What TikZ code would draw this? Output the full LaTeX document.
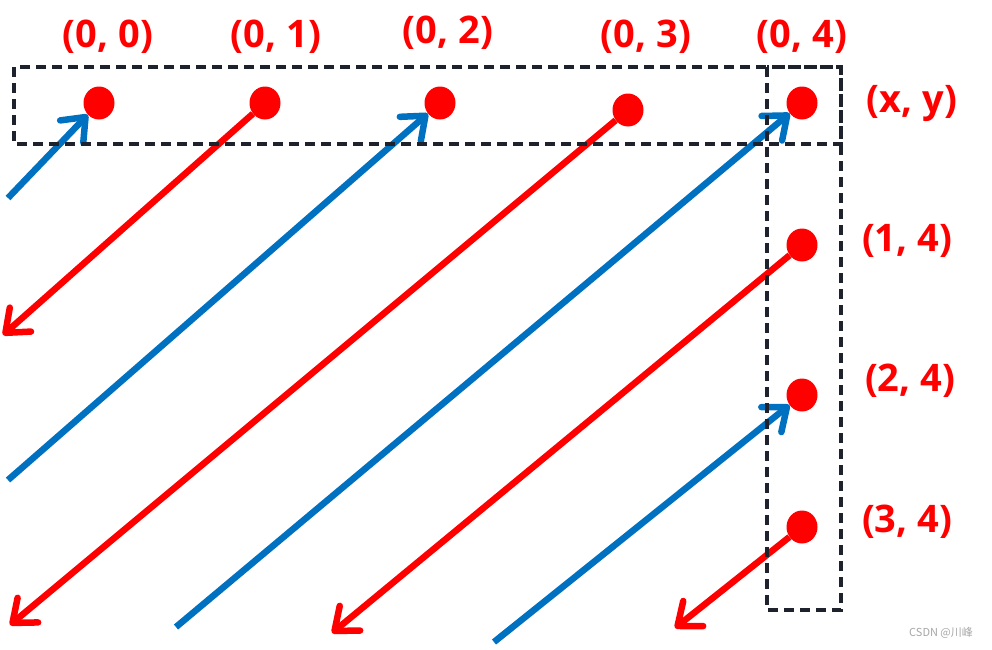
\documentclass[tikz,border=0pt]{standalone}
\usepackage{fontspec}
\setmainfont{Open Sans}
\newfontfamily\cjkfont{Noto Sans CJK SC}
\usetikzlibrary{shapes.geometric,arrows.meta}
\definecolor{myred}{RGB}{255,0,0}
\definecolor{myblue}{RGB}{0,112,192}
\definecolor{mydark}{RGB}{30,34,44}
\tikzset{
  dot/.style={ellipse,fill=myred,inner sep=0pt,minimum width=31pt,minimum height=33pt},
  lbl/.style={text=myred,font=\fontsize{38}{40}\selectfont\bfseries,inner sep=0pt},
  bluearr/.style={draw=myblue,line width=6.5pt,-{Straight Barb[length=20pt,width=32pt,round]}},
  redarr/.style={draw=myred,line width=6.5pt,-{Straight Barb[length=20pt,width=32pt,round]}},
  dashbox/.style={draw=mydark,line width=4pt,dash pattern=on 10pt off 6pt}
}
\begin{document}
\begin{tikzpicture}[x=1pt,y=-1pt]
\useasboundingbox (0,0) rectangle (992,649);
% dots
\node[dot] (d00) at (99,103) {};
\node[dot] (d01) at (265,103) {};
\node[dot] (d02) at (440,103) {};
\node[dot] (d03) at (628,110) {};
\node[dot] (d04) at (802,103) {};
\node[dot] (d14) at (802,245) {};
\node[dot] (d24) at (802,395) {};
\node[dot] (d34) at (802,527) {};
% labels
\node[lbl] (l00) at (108,37) {(0, 0)};
\node[lbl] (l01) at (276,37) {(0, 1)};
\node[lbl] (l02) at (448,33) {(0, 2)};
\node[lbl] (l03) at (646,37) {(0, 3)};
\node[lbl] (l04) at (802,37) {(0, 4)};
\node[lbl] (lxy) at (912,103) {(x, y)};
\node[lbl] (l14) at (907,241) {(1, 4)};
\node[lbl] (l24) at (910,381) {(2, 4)};
\node[lbl] (l34) at (907,522) {(3, 4)};
% free ends
\coordinate (b1) at (8,198);
\coordinate (b2) at (8,480);
\coordinate (b3) at (176,627);
\coordinate (b4) at (494,642);
\coordinate (r1) at (3,335);
\coordinate (r2) at (10,625);
\coordinate (r3) at (332,633);
\coordinate (r4) at (675,628);
% arrows
\draw[bluearr] (b1) -- (d00);
\draw[bluearr] (b2) -- (d02);
\draw[bluearr] (b3) -- (d04);
\draw[bluearr] (b4) -- (d24);
\draw[redarr] (d01) -- (r1);
\draw[redarr] (d03) -- (r2);
\draw[redarr] (d14) -- (r3);
\draw[redarr] (d34) -- (r4);
% dashed boxes
\draw[dashbox] (14,67) rectangle (841,144);
\draw[dashbox] (767,67) rectangle (841,610);
% watermark
\node[text=gray!70,font=\cjkfont\fontsize{11}{12}\selectfont,inner sep=0pt,anchor=west] (wm) at (909,633) {CSDN @川峰};
\end{tikzpicture}
\end{document}
